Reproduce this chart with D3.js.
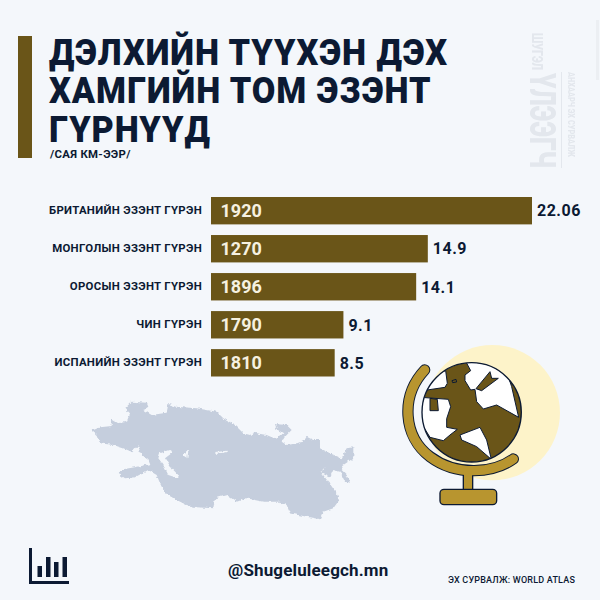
<!DOCTYPE html>
<html lang="mn">

<head>
    <meta charset="UTF-8">
    <title>Эзэнт гүрнүүд</title>
    <script src="https://cdn.jsdelivr.net/npm/d3@7"></script>
    <style>
        * {
            box-sizing: border-box;
            padding: 0;
            margin: 0;
            border: 0;
        }

        body {
            background: #f4f7fb;
        }

        svg {
            display: block;
            font-family: Roboto, sans-serif;
        }
    </style>
</head>

<body>
    <svg width="600" height="600"></svg>
    <script>
        var categories = ["БРИТАНИЙН ЭЗЭНТ ГҮРЭН", "МОНГОЛЫН ЭЗЭНТ ГҮРЭН", "ОРОСЫН ЭЗЭНТ ГҮРЭН", "ЧИН ГҮРЭН", "ИСПАНИЙН ЭЗЭНТ ГҮРЭН"];
        var areas = [22.06, 14.9, 14.1, 9.1, 8.5];
        var years = ["1920", "1270", "1896", "1790", "1810"];
        var areaLabels = ["22.06", "14.9", "14.1", "9.1", "8.5"];
        var titleLines = ["ДЭЛХИЙН ТҮҮХЭН ДЭХ", "ХАМГИЙН ТОМ ЭЗЭНТ", "ГҮРНҮҮД"];

        var navy = "#0c1a33", brown = "#6a5518", gold = "#b8952f";
        var svg = d3.select("svg");

        var defs = svg.append("defs");
        defs.append("filter").attr("id", "soft").append("feGaussianBlur").attr("stdDeviation", 0.6);
        var rough = defs.append("filter").attr("id", "rough").attr("color-interpolation-filters", "sRGB");
        rough.append("feTurbulence").attr("type", "fractalNoise").attr("baseFrequency", 0.09).attr("numOctaves", 2).attr("seed", 4);
        rough.append("feDisplacementMap").attr("in", "SourceGraphic").attr("scale", 12)
            .attr("xChannelSelector", "R").attr("yChannelSelector", "G");

        // header
        svg.append("rect").attr("x", 18).attr("y", 36).attr("width", 14).attr("height", 122).attr("fill", brown);
        svg.append("g").attr("transform", "translate(49,0) scale(0.95,1)").selectAll("text")
            .data(titleLines)
            .enter()
            .append("text")
            .attr("x", 0)
            .attr("y", function (d, i) { return 65 + i * 38.4; })
            .attr("font-size", 36)
            .attr("font-weight", 900)
            .attr("letter-spacing", 1)
            .attr("fill", navy)
            .text(function (d) { return d; });
        svg.append("text").attr("x", 50).attr("y", 158).attr("font-size", 11.4).attr("font-weight", 700)
            .attr("letter-spacing", 0.3).attr("fill", navy).text("/САЯ КМ-ЭЭР/");

        // faint watermark on the right
        var mark = svg.append("g").attr("fill", "#e3e7ed").attr("font-weight", 900).attr("filter", "url(#soft)");
        mark.append("text").attr("transform", "translate(532,33) rotate(90)").attr("font-size", 15)
            .attr("textLength", 37).attr("lengthAdjust", "spacingAndGlyphs").text("ШУГЭЛ");
        mark.append("text").attr("transform", "translate(530,73) rotate(90)").attr("font-size", 36)
            .attr("textLength", 95).attr("lengthAdjust", "spacingAndGlyphs").text("ҮЛЭЭГЧ");
        mark.append("text").attr("transform", "translate(568,72) rotate(90)").attr("font-size", 9.5)
            .attr("textLength", 85).attr("lengthAdjust", "spacingAndGlyphs").text("АНХААРЧ ЭХ СУРВАЛЖ");
        mark.append("rect").attr("x", 561).attr("y", 72).attr("width", 1).attr("height", 96);
        svg.append("rect").attr("x", 596).attr("y", 20).attr("width", 3).attr("height", 60).attr("fill", "#eceff3");

        // bars
        var x = d3.scaleLinear().domain([0, d3.max(areas)]).range([211, 532]);
        var y = d3.scaleBand().domain(categories).range([197, 376.5]).paddingInner(0.28).paddingOuter(0);

        var rows = categories.map(function (c, i) {
            return { name: c, area: areas[i], year: years[i], label: areaLabels[i] };
        });

        svg.append("g").selectAll("rect")
            .data(rows)
            .enter()
            .append("rect")
            .attr("x", x(0))
            .attr("y", function (d) { return y(d.name); })
            .attr("width", function (d) { return x(d.area) - x(0); })
            .attr("height", y.bandwidth())
            .attr("fill", brown);

        var yAxis = d3.axisLeft(y).tickSize(0).tickPadding(0);
        var axisG = svg.append("g").attr("transform", "translate(202,0)").call(yAxis);
        axisG.select(".domain").remove();
        axisG.selectAll("text")
            .attr("font-family", "Roboto, sans-serif")
            .attr("font-size", 11.4)
            .attr("font-weight", 700)
            .attr("letter-spacing", 0.3)
            .attr("fill", navy);

        svg.append("g").selectAll("text")
            .data(rows)
            .enter()
            .append("text")
            .attr("x", 220.5)
            .attr("y", function (d) { return y(d.name) + y.bandwidth() / 2; })
            .attr("dy", "0.36em")
            .attr("font-size", 18)
            .attr("font-weight", 700)
            .attr("fill", "#f6f1e0")
            .text(function (d) { return d.year; });

        svg.append("g").selectAll("text")
            .data(rows)
            .enter()
            .append("text")
            .attr("x", function (d) { return x(d.area) + 5; })
            .attr("y", function (d) { return y(d.name) + y.bandwidth() / 2; })
            .attr("dy", "0.36em")
            .attr("font-size", 16)
            .attr("font-weight", 700)
            .attr("letter-spacing", 0.5)
            .attr("fill", navy)
            .text(function (d) { return d.label; });

        // map silhouette, traced by hand
        svg.append("path")
            .attr("transform", "translate(80,390) scale(0.3333)")
            .attr("fill", "#c5cedd")
            .attr("fill-rule", "evenodd")
            .attr("filter", "url(#rough)")
            .attr("d", "M35,122L60,112L95,108L95,88L115,100L140,95L150,70L135,55L155,35L200,38L205,50L190,60L215,75L260,68L265,42L290,50L350,55L410,65L430,85L465,105L490,130L510,135L520,128L560,135L590,148L610,130L590,118L585,102L620,105L635,120L615,140L605,155L620,165L670,155L680,140L700,150L720,150L720,175L750,190L785,205L800,175L820,172L820,205L790,225L785,240L800,255L810,278L795,275L780,245L760,240L750,262L725,250L735,232L722,245L745,275L770,310L778,330L760,355L730,365L720,388L680,380L630,370L620,345L600,335L550,335L500,325L470,335L440,315L405,325L400,355L350,352L320,345L290,330L255,310L240,280L230,255L205,240L165,262L135,265L112,248L130,238L185,228L210,222L205,210L180,190L175,165L155,185L130,175L100,165L60,160L50,135Z" +
                "M240,190L270,180L275,190L255,205L275,235L295,255L295,265L265,255L250,225L235,205Z" +
                "M312,190L325,182L322,205L312,198Z M405,186L440,182L440,186L410,192Z");

        // globe icon, traced by hand
        var globe = svg.append("g").attr("transform", "translate(380,340) scale(0.3333)");
        globe.append("circle").attr("cx", 337).attr("cy", 218).attr("r", 203).attr("fill", "#fdf3c9");
        globe.append("clipPath").attr("id", "ball").append("circle").attr("cx", 275).attr("cy", 217).attr("r", 149);
        globe.append("circle").attr("cx", 275).attr("cy", 217).attr("r", 149).attr("fill", brown);
        var land = globe.append("g").attr("clip-path", "url(#ball)").attr("fill", "#fff").attr("stroke", navy).attr("stroke-width", 3);
        var whiteShapes = [
            "M255,60L345,60L385,110L395,140L416,232L350,195L310,207L290,185L285,148L272,150L255,122L255,105L272,92Z",
            "M184,96L155,120L128,152L195,142L202,130L197,92Z",
            "M122,172L205,178L212,200L200,236L200,262L232,268L210,285L190,302L150,292L118,240Z",
            "M240,285L300,262L320,300L334,358L290,320L245,300Z"
        ];
        land.selectAll("path").data(whiteShapes).enter().append("path").attr("d", function (d) { return d; });
        var blobs = [
            "M288,146L330,95L335,115L355,115L305,152Z",
            "M150,175L172,178L175,212L150,212Z",
            "M216,122L228,118L230,126L218,128Z"
        ];
        land.selectAll(".blob").data(blobs).enter().append("path").attr("class", "blob").attr("fill", brown).attr("d", function (d) { return d; });
        globe.append("circle").attr("cx", 275).attr("cy", 217).attr("r", 149).attr("fill", "none").attr("stroke", navy).attr("stroke-width", 4);

        var arc = "M134,90C60,170 70,290 150,350C230,410 340,400 400,357";
        globe.append("rect").attr("x", 250).attr("y", 385).attr("width", 28).attr("height", 70).attr("fill", gold).attr("stroke", navy).attr("stroke-width", 4);
        globe.append("path").attr("d", arc).attr("fill", "none").attr("stroke", navy).attr("stroke-width", 34).attr("stroke-linecap", "round");
        globe.append("path").attr("d", arc).attr("fill", "none").attr("stroke", gold).attr("stroke-width", 28).attr("stroke-linecap", "round");
        globe.append("rect").attr("x", 252).attr("y", 395).attr("width", 24).attr("height", 60).attr("fill", gold);
        globe.append("rect").attr("x", 180).attr("y", 448).attr("width", 170).attr("height", 46).attr("rx", 12).attr("fill", gold).attr("stroke", navy).attr("stroke-width", 4);

        // footer
        var icon = svg.append("g").attr("fill", navy);
        icon.append("rect").attr("x", 29).attr("y", 548).attr("width", 3).attr("height", 36);
        icon.append("rect").attr("x", 29).attr("y", 581).attr("width", 40).attr("height", 3);
        var iconTops = [[37.5, 566], [46, 557], [54, 562], [62.5, 557]];
        icon.selectAll(".b").data(iconTops).enter().append("rect").attr("class", "b")
            .attr("x", function (d) { return d[0]; })
            .attr("y", function (d) { return d[1]; })
            .attr("width", 4.5)
            .attr("height", function (d) { return 577 - d[1]; });

        svg.append("text").attr("x", 228).attr("y", 576).attr("font-size", 17).attr("font-weight", 700)
            .attr("letter-spacing", 0.15).attr("fill", navy).text("@Shugeluleegch.mn");
        svg.append("text").attr("x", 448).attr("y", 583).attr("font-size", 9).attr("font-weight", 500)
            .attr("letter-spacing", 0.2).attr("fill", navy).text("ЭХ СУРВАЛЖ: WORLD ATLAS");
    </script>
</body>

</html>
